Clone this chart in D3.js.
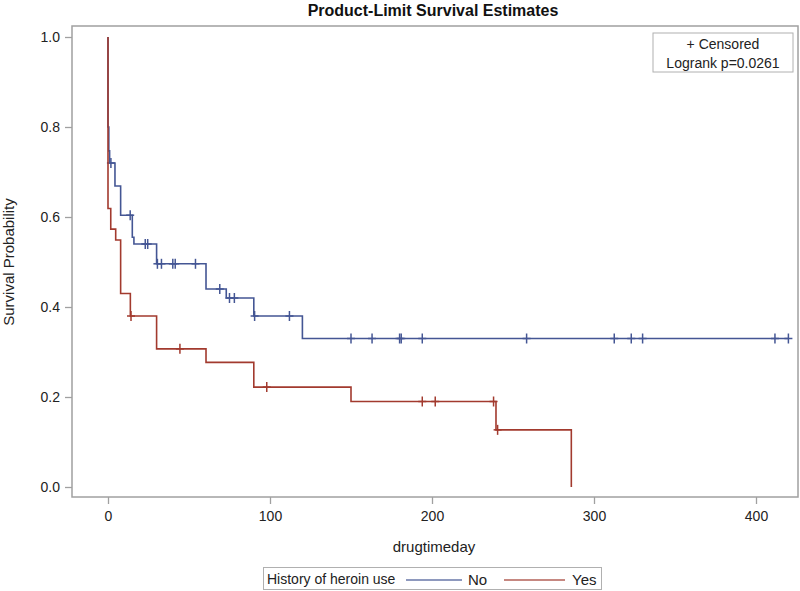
<!DOCTYPE html>
<html>
<head>
<meta charset="utf-8">
<script src="https://cdn.jsdelivr.net/npm/d3@7"></script>
<style>
  html, body { margin: 0; padding: 0; background: #fff; }
  svg { display: block; font-family: "Liberation Sans", Arial, sans-serif; }
</style>
</head>
<body>
<svg id="chart" width="800" height="591"></svg>
<script>
// ---- data ----
const groups = ["No", "Yes"];
const noTimes = [0, 0.5, 1.0, 4.3, 7.8, 15, 16, 30, 60.5, 73, 90, 120];
const noSurv  = [0.80, 0.747, 0.72, 0.669, 0.604, 0.555, 0.54, 0.496, 0.44, 0.42, 0.38, 0.33];
const noCensor = [1.8, 13.7, 23, 24.5, 30.5, 33, 40, 41.5, 54, 69, 75, 78, 90.5, 112,
                  150, 163, 180, 181, 194, 258.4, 312.5, 323, 330, 411.7, 420];
const noEnd = 420;
const yesTimes = [0, 1.7, 4.75, 7.8, 13.8, 30, 60.5, 90, 150, 239.5, 286];
const yesSurv  = [0.619, 0.573, 0.549, 0.43, 0.38, 0.307, 0.277, 0.222, 0.19, 0.127, 0];
const yesCensor = [14.2, 44.4, 98, 194, 202, 238, 240.5];
const yesEnd = 286;
const xTicks = [0, 100, 200, 300, 400];
const yTicks = [0, 0.2, 0.4, 0.6, 0.8, 1.0];
const titleText = "Product-Limit Survival Estimates";
const insetLines = ["+ Censored", "Logrank p=0.0261"];

const colors = { No: "#445694", Yes: "#A23A2E" };

const svg = d3.select("#chart");
const frame = { left: 72, top: 26, right: 798, bottom: 497 };

const x = d3.scaleLinear().domain([0, 400]).range([108, 756]);
const y = d3.scaleLinear().domain([0, 1]).range([487, 37]);

// title
svg.append("text").attr("x", 433).attr("y", 16).attr("text-anchor", "middle")
  .attr("font-size", 16).attr("font-weight", "bold").attr("fill", "#111").text(titleText);

// axes
const xAxis = d3.axisBottom(x).tickValues(xTicks).tickSize(7).tickPadding(7).tickFormat(d3.format("d"));
const yAxis = d3.axisLeft(y).tickValues(yTicks).tickSize(7).tickPadding(5).tickFormat(d3.format(".1f"));
const gx = svg.append("g").attr("transform", `translate(0,${frame.bottom})`).call(xAxis);
const gy = svg.append("g").attr("transform", `translate(${frame.left},0)`).call(yAxis);
[gx, gy].forEach(g => {
  g.select(".domain").remove();
  g.selectAll(".tick line").attr("stroke", "#a0a0a0").attr("stroke-width", 1.3);
  g.selectAll(".tick text").attr("font-size", 14).attr("fill", "#222");
});

// frame
svg.append("rect").attr("x", frame.left).attr("y", frame.top)
  .attr("width", frame.right - frame.left).attr("height", frame.bottom - frame.top)
  .attr("fill", "none").attr("stroke", "#a0a0a0").attr("stroke-width", 1.5);

// axis labels
svg.append("text").attr("x", 434).attr("y", 552).attr("text-anchor", "middle")
  .attr("font-size", 15).attr("fill", "#222").text("drugtimeday");
svg.append("text").attr("transform", "translate(14,262) rotate(-90)").attr("text-anchor", "middle")
  .attr("font-size", 15).attr("fill", "#222").text("Survival Probability");

// curves
function survAt(times, surv, t) {
  let s = 1.0;
  for (let i = 0; i < times.length; i++) if (times[i] <= t) s = surv[i];
  return s;
}
const line = d3.line().x(d => x(d[0])).y(d => y(d[1])).curve(d3.curveStepAfter);
const series = [
  { key: "No", times: noTimes, surv: noSurv, cens: noCensor, end: noEnd },
  { key: "Yes", times: yesTimes, surv: yesSurv, cens: yesCensor, end: yesEnd }
];
series.forEach(s => {
  const pts = [[0, 1.0]];
  s.times.forEach((t, i) => pts.push([t, s.surv[i]]));
  const last = pts[pts.length - 1];
  if (s.end > last[0]) pts.push([s.end, last[1]]);
  svg.append("path").attr("d", line(pts)).attr("fill", "none")
    .attr("stroke", colors[s.key]).attr("stroke-width", 1.6);
  const g = svg.append("g");
  s.cens.forEach(t => {
    const cx = x(t), cy = y(survAt(s.times, s.surv, t));
    g.append("line").attr("x1", cx).attr("x2", cx).attr("y1", cy - 5).attr("y2", cy + 5)
      .attr("stroke", colors[s.key]).attr("stroke-width", 1.5);
    g.append("line").attr("x1", cx - 4).attr("x2", cx + 4).attr("y1", cy).attr("y2", cy)
      .attr("stroke", colors[s.key]).attr("stroke-width", 1.5);
  });
});

// inset box
svg.append("rect").attr("x", 653).attr("y", 33).attr("width", 140).attr("height", 39)
  .attr("fill", "#fff").attr("stroke", "#b0b0b0").attr("stroke-width", 1);
insetLines.forEach((t, i) => {
  svg.append("text").attr("x", 723).attr("y", 49 + i * 19).attr("text-anchor", "middle")
    .attr("font-size", 14).attr("fill", "#222").text(t);
});

// bottom legend
const lg = svg.append("g");
lg.append("rect").attr("x", 263.5).attr("y", 567.5).attr("width", 338).attr("height", 22)
  .attr("fill", "#fff").attr("stroke", "#b0b0b0").attr("stroke-width", 1);
lg.append("text").attr("x", 267).attr("y", 584).attr("font-size", 14).attr("fill", "#222")
  .text("History of heroin use");
const legItems = [
  { key: groups[0], x1: 406, x2: 462, tx: 468 },
  { key: groups[1], x1: 504, x2: 565, tx: 572 }
];
legItems.forEach(it => {
  lg.append("line").attr("x1", it.x1).attr("x2", it.x2).attr("y1", 580).attr("y2", 580)
    .attr("stroke", colors[it.key]).attr("stroke-width", 1.6).attr("opacity", 0.8);
  lg.append("text").attr("x", it.tx).attr("y", 585).attr("font-size", 15).attr("fill", "#222").text(it.key);
});
</script>
</body>
</html>
